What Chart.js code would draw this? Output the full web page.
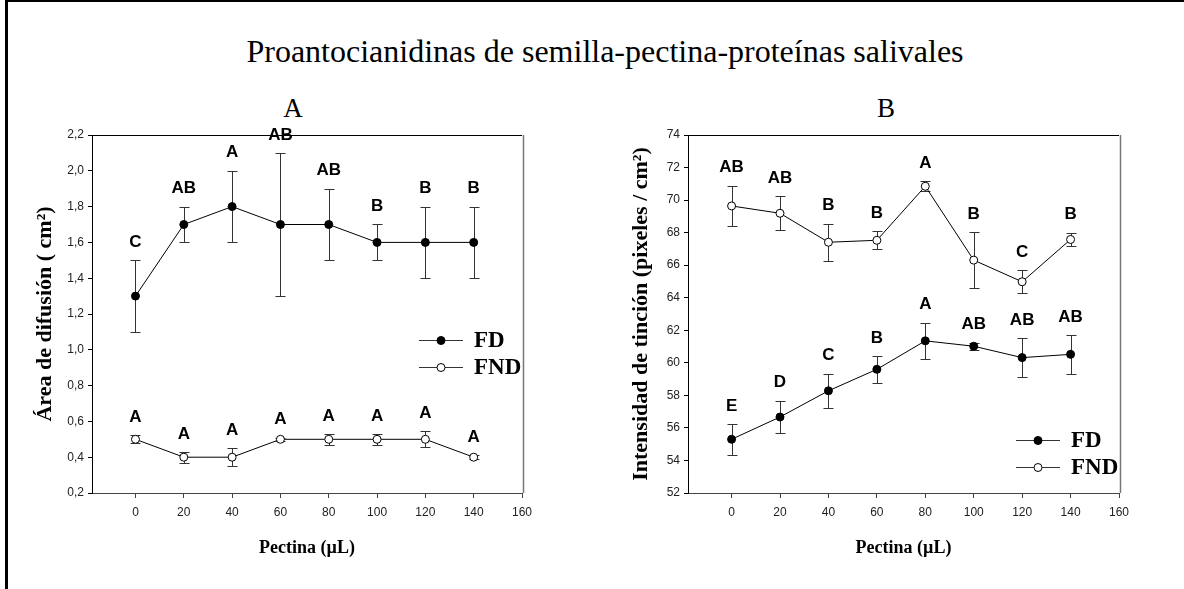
<!DOCTYPE html>
<html>
<head>
<meta charset="utf-8">
<script src="https://cdn.jsdelivr.net/npm/chart.js@4.4.1/dist/chart.umd.min.js"></script>
<style>
  html, body { margin: 0; padding: 0; background: #fff; }
  body { width: 1184px; height: 589px; position: relative; overflow: hidden; }
  .frame { position: absolute; left: 5px; top: 0; width: 1200px; height: 620px;
           border-left: 3px solid #000; border-top: 2px solid #000; }
  .title { position: absolute; left: 0; width: 1210px; top: 35px; text-align: center;
           font: 32px "Liberation Serif", "Times New Roman", serif; line-height: 32px; color: #000; }
  .panel { position: absolute; top: 95px; width: 60px; text-align: center;
           font: 27px "Liberation Serif", "Times New Roman", serif; line-height: 27px; color: #000; }
  canvas { position: absolute; top: 0; }
</style>
</head>
<body>
<div class="frame"></div>
<div class="title">Proantocianidinas de semilla-pectina-proteínas salivales</div>
<div class="panel" style="left:263px">A</div>
<div class="panel" style="left:856px">B</div>
<canvas id="chartA" width="592" height="589" style="left:0"></canvas>
<canvas id="chartB" width="592" height="589" style="left:592px"></canvas>
<script>
// Pectina added (µL)
const pectina = [0, 20, 40, 60, 80, 100, 120, 140];
const xTicks = [0, 20, 40, 60, 80, 100, 120, 140, 160];

// A: diffusion area (cm²)
const areaFD = [1.3, 1.7, 1.8, 1.7, 1.7, 1.6, 1.6, 1.6];
const areaFDErr = [0.2, 0.1, 0.2, 0.4, 0.2, 0.1, 0.2, 0.2];
const areaFDLetters = ['C', 'AB', 'A', 'AB', 'AB', 'B', 'B', 'B'];
const areaFND = [0.5, 0.4, 0.4, 0.5, 0.5, 0.5, 0.5, 0.4];
const areaFNDErr = [0.022, 0.03, 0.05, 0.01, 0.03, 0.03, 0.044, 0.01];
const areaFNDLetters = ['A', 'A', 'A', 'A', 'A', 'A', 'A', 'A'];
const areaTicks = [0.2, 0.4, 0.6, 0.8, 1.0, 1.2, 1.4, 1.6, 1.8, 2.0, 2.2];

// B: staining intensity (pixeles / cm²)
const tincionFD = [55.3, 56.67, 58.28, 59.6, 61.35, 61.02, 60.32, 60.52];
const tincionFDErr = [0.94, 1.0, 1.06, 0.83, 1.12, 0.22, 1.2, 1.2];
const tincionFDLetters = ['E', 'D', 'C', 'B', 'A', 'AB', 'AB', 'AB'];
const tincionFND = [69.64, 69.19, 67.41, 67.53, 70.85, 66.31, 64.98, 67.58];
const tincionFNDErr = [1.24, 1.05, 1.15, 0.56, 0.3, 1.74, 0.71, 0.42];
const tincionFNDLetters = ['AB', 'AB', 'B', 'B', 'A', 'B', 'C', 'B'];
const tincionTicks = [52, 54, 56, 58, 60, 62, 64, 66, 68, 70, 72, 74];

const serif = '"Liberation Serif", "Times New Roman", serif';
const sans = '"Liberation Sans", Arial, sans-serif';

// error bars, letters above them, the legend and the top/right frame
const extras = {
  id: 'extras',
  beforeDatasetsDraw(chart) {
    const { ctx, scales: { x, y } } = chart;
    ctx.save();
    ctx.strokeStyle = '#333';
    ctx.lineWidth = 1;
    chart.data.datasets.forEach(ds => {
      ds.data.forEach((p, i) => {
        const px = Math.round(x.getPixelForValue(p.x)) + 0.5;
        const top = Math.round(y.getPixelForValue(p.y + ds.err[i])) + 0.5;
        const bot = Math.round(y.getPixelForValue(p.y - ds.err[i])) + 0.5;
        ctx.beginPath();
        ctx.moveTo(px, top); ctx.lineTo(px, bot);
        ctx.moveTo(px - 5, top); ctx.lineTo(px + 5, top);
        ctx.moveTo(px - 5, bot); ctx.lineTo(px + 5, bot);
        ctx.stroke();
      });
    });
    ctx.restore();
  },
  afterDatasetsDraw(chart) {
    const { ctx, scales: { x, y } } = chart;
    ctx.save();
    ctx.fillStyle = '#000';
    ctx.font = 'bold 17px ' + sans;
    ctx.textAlign = 'center';
    ctx.textBaseline = 'middle';
    chart.data.datasets.forEach(ds => {
      ds.data.forEach((p, i) => {
        const top = y.getPixelForValue(p.y + ds.err[i]);
        ctx.fillText(ds.letters[i], x.getPixelForValue(p.x), top - 18);
      });
    });
    ctx.restore();
  },
  afterDraw(chart, args, opts) {
    const { ctx, chartArea: a } = chart;
    ctx.save();
    ctx.lineWidth = 1;
    ctx.strokeStyle = '#000';
    ctx.beginPath();
    ctx.moveTo(a.left, a.top + 0.5); ctx.lineTo(a.right, a.top + 0.5);
    ctx.stroke();
    ctx.strokeStyle = '#777';
    ctx.lineWidth = 1.5;
    ctx.beginPath();
    ctx.moveTo(a.right + 1.5, a.top); ctx.lineTo(a.right + 1.5, a.bottom);
    ctx.stroke();

    // legend
    chart.data.datasets.forEach((ds, i) => {
      const ly = a.top + opts.legendTop + i * 27 + 0.5;
      ctx.strokeStyle = '#333';
      ctx.lineWidth = 1;
      ctx.beginPath();
      ctx.moveTo(a.right - 103, ly); ctx.lineTo(a.right - 59, ly);
      ctx.stroke();
      ctx.beginPath();
      ctx.arc(a.right - 81, ly, 4, 0, Math.PI * 2);
      ctx.fillStyle = ds.pointBackgroundColor;
      ctx.fill();
      ctx.strokeStyle = '#000';
      ctx.stroke();
      ctx.fillStyle = '#000';
      ctx.font = 'bold 23px ' + serif;
      ctx.textAlign = 'left';
      ctx.textBaseline = 'middle';
      ctx.fillText(ds.label, a.right - 48, ly + 1);
    });
    ctx.restore();
  }
};

function series(label, values, err, letters, fill) {
  return {
    label,
    data: pectina.map((x, i) => ({ x, y: values[i] })),
    err,
    letters,
    borderColor: '#000',
    borderWidth: 1,
    pointRadius: 4,
    pointHoverRadius: 4,
    pointBackgroundColor: fill,
    pointBorderColor: '#000',
    pointBorderWidth: 1,
    tension: 0
  };
}

function panel(id, datasets, yTicks, yTitle, fmt, rightPad, yWidth, yTitlePad, legendTop) {
  new Chart(document.getElementById(id), {
    type: 'line',
    data: { datasets },
    plugins: [extras],
    options: {
      responsive: false,
      animation: false,
      layout: { padding: { top: 135, right: rightPad, left: 0, bottom: 0 } },
      plugins: {
        legend: { display: false },
        tooltip: { enabled: false },
        extras: { legendTop }
      },
      scales: {
        x: {
          type: 'linear',
          min: -18,
          max: 160,
          afterBuildTicks: s => { s.ticks = xTicks.map(v => ({ value: v })); },
          afterFit: s => { s.height = 96; },
          grid: { drawOnChartArea: false, drawTicks: true, tickLength: 5, color: '#444' },
          border: { color: '#444', width: 1 },
          ticks: { color: '#222', font: { family: sans, size: 12 }, padding: 7, maxRotation: 0 },
          title: {
            display: true, text: 'Pectina (µL)', color: '#000',
            font: { family: serif, size: 18, weight: 'bold' },
            padding: { top: 0, bottom: 30 }
          }
        },
        y: {
          min: yTicks[0],
          max: yTicks[yTicks.length - 1],
          afterBuildTicks: s => { s.ticks = yTicks.map(v => ({ value: v })); },
          afterFit: s => { s.width = yWidth; },
          grid: { drawOnChartArea: false, drawTicks: true, tickLength: 4, color: '#000' },
          border: { color: '#000', width: 1 },
          ticks: { color: '#222', font: { family: sans, size: 12 }, padding: 4, callback: fmt },
          title: {
            display: true, text: yTitle, color: '#000',
            font: { family: serif, size: 22, weight: 'bold' },
            padding: { top: yTitlePad, bottom: 0 }
          }
        }
      }
    }
  });
}

panel('chartA', [
  series('FD', areaFD, areaFDErr, areaFDLetters, '#000'),
  series('FND', areaFND, areaFNDErr, areaFNDLetters, '#fff')
], areaTicks, 'Área de difusión ( cm²)', v => v.toFixed(1).replace('.', ','), 70, 92, 32, 205);

panel('chartB', [
  series('FD', tincionFD, tincionFDErr, tincionFDLetters, '#000'),
  series('FND', tincionFND, tincionFNDErr, tincionFNDLetters, '#fff')
], tincionTicks, 'Intensidad de tinción (pixeles / cm²)', v => String(v), 65, 96, 36, 305);
</script>
</body>
</html>
